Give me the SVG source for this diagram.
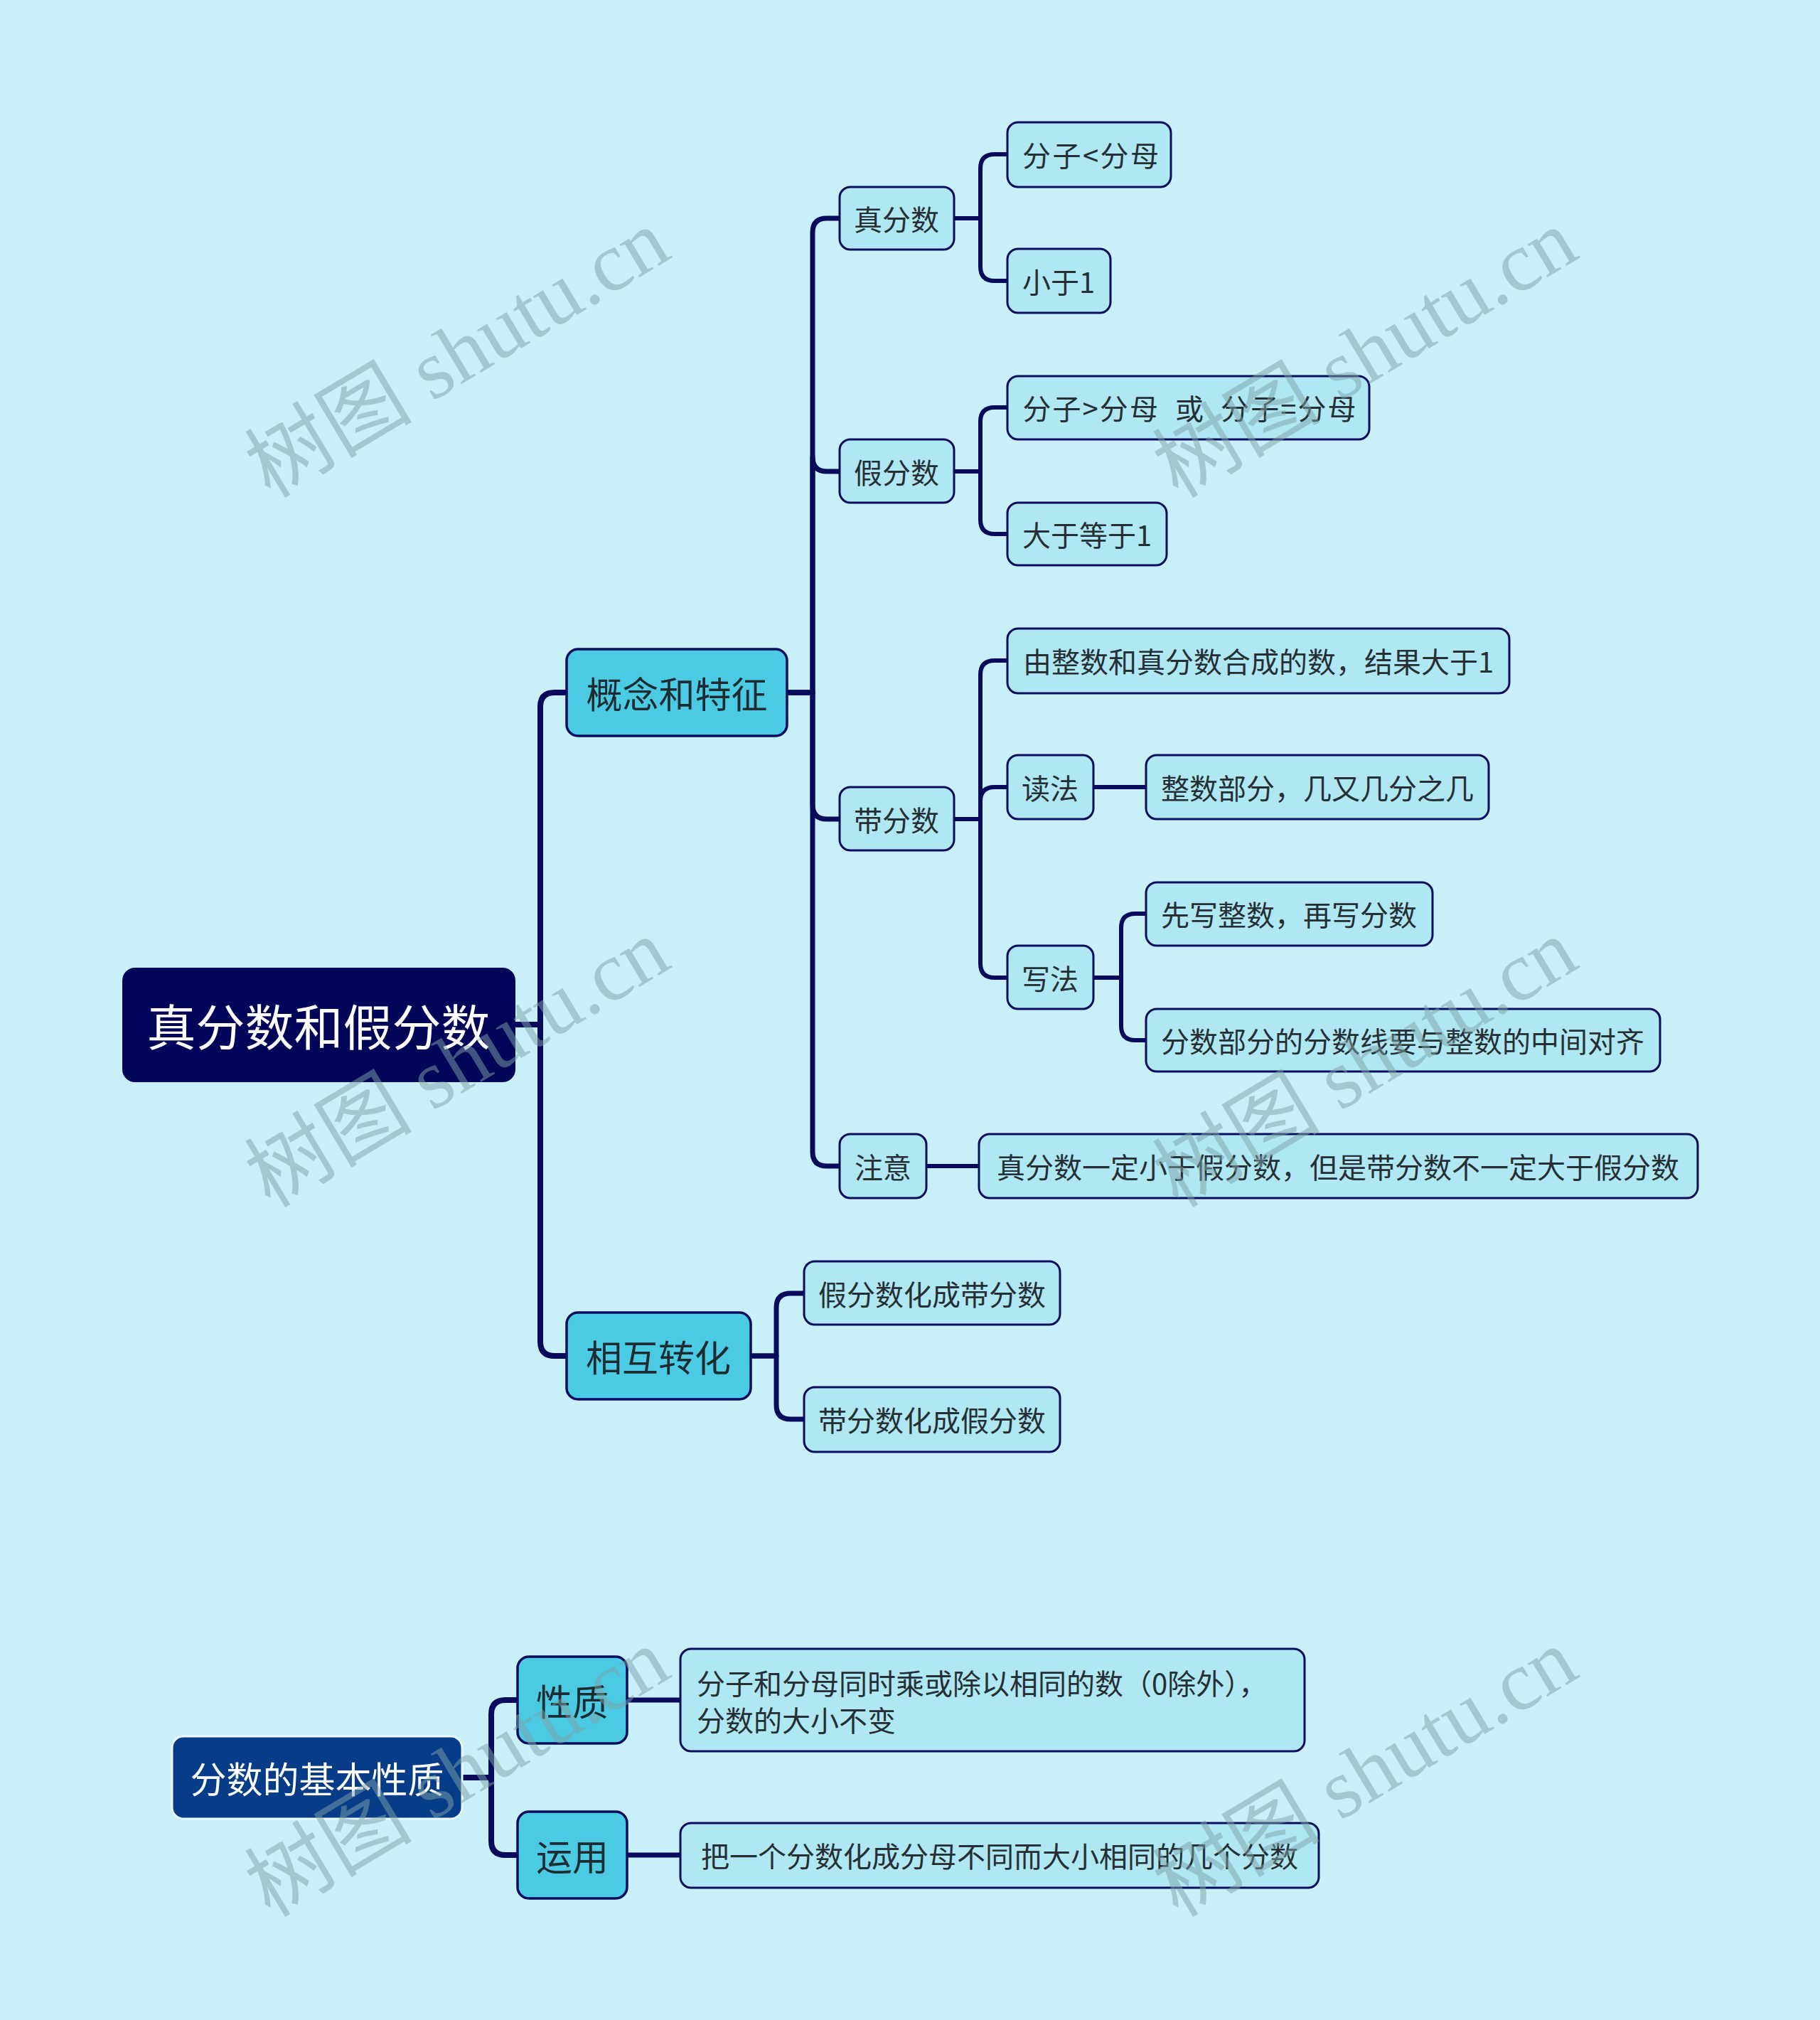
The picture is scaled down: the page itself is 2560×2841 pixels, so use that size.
<svg xmlns="http://www.w3.org/2000/svg" width="2560" height="2841" viewBox="0 0 2560 2841">
<style>
.t{font-family:"Noto Sans CJK SC","Noto Sans",sans-serif;dominant-baseline:central;text-anchor:middle}
.root rect{fill:#020659}
.root text{fill:#ffffff;font-size:69px}
.root2 rect{fill:#073D88;stroke:#e8f8fb;stroke-width:3}
.root2 text{fill:#ffffff;font-size:51px}
.l2 rect{fill:#4BCAE3;stroke:#0C0C5E;stroke-width:3.5}
.l2 text{fill:#1E2B30;font-size:51px}
.l3 rect{fill:#AFE7F3;stroke:#0C0C5E;stroke-width:3}
.l3 text{fill:#262F34;font-size:40px}
.c path{fill:none;stroke:#0A0A5C;stroke-linejoin:round}
.w1{stroke-width:8}
.w2{stroke-width:7}
.w3{stroke-width:6}
.wm{font-family:"Liberation Serif","Noto Sans CJK SC",serif;font-size:118px;fill:#7FA3A8;opacity:0.5}
</style>
<rect x="0" y="0" width="2560" height="2841" fill="#C9F0F8"/>

<g id="connectors" class="c">
  <path class="w1" d="M725 1441 H760 V994 Q760 974 780 974 H797"/>
  <path class="w1" d="M725 1441 H760 V1887 Q760 1907 780 1907 H797"/>
  <path class="w2" d="M1107 974 H1143 V327 Q1143 307 1163 307 H1181"/>
  <path class="w2" d="M1107 974 H1143 V643 Q1143 663 1163 663 H1181"/>
  <path class="w2" d="M1107 974 H1143 V1132 Q1143 1152 1163 1152 H1181"/>
  <path class="w2" d="M1107 974 H1143 V1620 Q1143 1640 1163 1640 H1181"/>
  <path class="w2" d="M1056 1907 H1092 V1839 Q1092 1819 1112 1819 H1131"/>
  <path class="w2" d="M1056 1907 H1092 V1976 Q1092 1996 1112 1996 H1131"/>
  <path class="w3" d="M1342 307 H1379 V237 Q1379 217 1399 217 H1417"/>
  <path class="w3" d="M1342 307 H1379 V375 Q1379 395 1399 395 H1417"/>
  <path class="w3" d="M1342 663 H1379 V593 Q1379 573 1399 573 H1417"/>
  <path class="w3" d="M1342 663 H1379 V731 Q1379 751 1399 751 H1417"/>
  <path class="w3" d="M1342 1152 H1379 V949 Q1379 929 1399 929 H1417"/>
  <path class="w3" d="M1342 1152 H1379 V1127 Q1379 1107 1399 1107 H1417"/>
  <path class="w3" d="M1342 1152 H1379 V1355 Q1379 1375 1399 1375 H1417"/>
  <path class="w3" d="M1538 1107 H1612"/>
  <path class="w3" d="M1538 1375 H1577 V1305 Q1577 1285 1597 1285 H1612"/>
  <path class="w3" d="M1538 1375 H1577 V1443 Q1577 1463 1597 1463 H1612"/>
  <path class="w3" d="M1303 1640 H1377"/>
  <path class="w1" d="M650 2500 H691 V2411 Q691 2391 711 2391 H728"/>
  <path class="w1" d="M650 2500 H691 V2589 Q691 2609 711 2609 H728"/>
  <path class="w2" d="M882 2391 H957"/>
  <path class="w2" d="M882 2609 H957"/>
</g>

<g id="n-root" class="root"><rect x="172" y="1361" width="553" height="161" rx="18"/><text class="t" x="448" y="1441">真分数和假分数</text></g>
<g id="n-gainian" class="l2"><rect x="797" y="913" width="310" height="122" rx="16"/><text class="t" x="952" y="974">概念和特征</text></g>
<g id="n-huxiang" class="l2"><rect x="797" y="1846" width="259" height="122" rx="16"/><text class="t" x="926" y="1907">相互转化</text></g>

<g id="n-zhen" class="l3"><rect x="1181" y="263" width="161" height="88" rx="15"/><text class="t" x="1261" y="307">真分数</text></g>
<g id="n-jia" class="l3"><rect x="1181" y="618" width="161" height="89" rx="15"/><text class="t" x="1261" y="663">假分数</text></g>
<g id="n-dai" class="l3"><rect x="1181" y="1107" width="161" height="89" rx="15"/><text class="t" x="1261" y="1152">带分数</text></g>
<g id="n-zhuyi" class="l3"><rect x="1181" y="1595" width="122" height="90" rx="15"/><text class="t" x="1242" y="1640">注意</text></g>

<g id="n-z1" class="l3"><rect x="1417" y="172" width="230" height="91" rx="15"/><text class="t" x="1534" y="217" textLength="192" lengthAdjust="spacing">分子&lt;分母</text></g>
<g id="n-z2" class="l3"><rect x="1417" y="350" width="145" height="90" rx="15"/><text class="t" x="1489" y="395">小于1</text></g>
<g id="n-j1" class="l3"><rect x="1417" y="529" width="509" height="89" rx="15"/><text class="t" x="1673" y="573" xml:space="preserve" textLength="469" lengthAdjust="spacing">分子&gt;分母  或  分子=分母</text></g>
<g id="n-j2" class="l3"><rect x="1417" y="707" width="224" height="88" rx="15"/><text class="t" x="1529" y="751">大于等于1</text></g>
<g id="n-d1" class="l3"><rect x="1417" y="884" width="706" height="91" rx="15"/><text class="t" x="1770" y="929">由整数和真分数合成的数，结果大于1</text></g>
<g id="n-dufa" class="l3"><rect x="1417" y="1062" width="121" height="90" rx="15"/><text class="t" x="1477" y="1107">读法</text></g>
<g id="n-dufa1" class="l3"><rect x="1612" y="1062" width="482" height="90" rx="15"/><text class="t" x="1853" y="1107">整数部分，几又几分之几</text></g>
<g id="n-xiefa" class="l3"><rect x="1417" y="1330" width="121" height="89" rx="15"/><text class="t" x="1477" y="1375">写法</text></g>
<g id="n-xie1" class="l3"><rect x="1612" y="1241" width="403" height="89" rx="15"/><text class="t" x="1813" y="1285">先写整数，再写分数</text></g>
<g id="n-xie2" class="l3"><rect x="1612" y="1419" width="723" height="88" rx="15"/><text class="t" x="1973" y="1463">分数部分的分数线要与整数的中间对齐</text></g>
<g id="n-zy1" class="l3"><rect x="1377" y="1595" width="1011" height="90" rx="15"/><text class="t" x="1882" y="1640">真分数一定小于假分数，但是带分数不一定大于假分数</text></g>
<g id="n-h1" class="l3"><rect x="1131" y="1774" width="360" height="89" rx="15"/><text class="t" x="1311" y="1819">假分数化成带分数</text></g>
<g id="n-h2" class="l3"><rect x="1131" y="1951" width="360" height="91" rx="15"/><text class="t" x="1311" y="1996">带分数化成假分数</text></g>

<g id="n-root2" class="root2"><rect x="242" y="2442" width="408" height="116" rx="16"/><text class="t" x="446" y="2500">分数的基本性质</text></g>
<g id="n-xingzhi" class="l2"><rect x="728" y="2330" width="154" height="122" rx="16"/><text class="t" x="805" y="2391">性质</text></g>
<g id="n-yunyong" class="l2"><rect x="728" y="2548" width="154" height="122" rx="16"/><text class="t" x="805" y="2609">运用</text></g>
<g id="n-x1" class="l3"><rect x="957" y="2319" width="878" height="144" rx="15"/><text class="t" x="980" y="2366" style="text-anchor:start">分子和分母同时乘或除以相同的数（0除外），</text><text class="t" x="980" y="2418" style="text-anchor:start">分数的大小不变</text></g>
<g id="n-y1" class="l3"><rect x="957" y="2564" width="898" height="91" rx="15"/><text class="t" x="1406" y="2609">把一个分数化成分母不同而大小相同的几个分数</text></g>

<g id="watermarks">
  <text class="wm" transform="translate(380,702) rotate(-31)">树图 shutu.cn</text>
  <text class="wm" transform="translate(1657,702) rotate(-31)">树图 shutu.cn</text>
  <text class="wm" transform="translate(380,1700) rotate(-31)">树图 shutu.cn</text>
  <text class="wm" transform="translate(1657,1700) rotate(-31)">树图 shutu.cn</text>
  <text class="wm" transform="translate(380,2698) rotate(-31)">树图 shutu.cn</text>
  <text class="wm" transform="translate(1657,2698) rotate(-31)">树图 shutu.cn</text>
</g>
</svg>
